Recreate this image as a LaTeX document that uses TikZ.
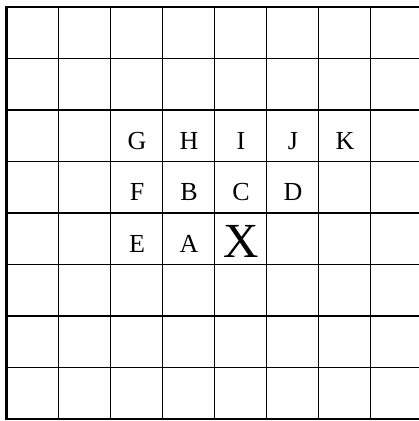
\documentclass[tikz,border=0pt]{standalone}
\usepackage{fontspec}
\setmainfont{Liberation Serif}
\usetikzlibrary{positioning}

\begin{document}
\begin{tikzpicture}[x=1pt,y=-1pt,
  letter/.style={anchor=base,inner sep=0pt,font=\fontsize{26}{26}\selectfont},
  bigletter/.style={anchor=base,inner sep=0pt,font=\fontsize{49}{49}\selectfont}]
\useasboundingbox (0,0) rectangle (419,421);
\clip (0,0) rectangle (419,421);
% grid: 8 columns of 52, 8 rows of 51.5
\foreach \i in {1,...,7} \draw[line width=1pt] ({6.5+52*\i},7)--({6.5+52*\i},419);
\foreach \j in {1,...,7} \draw[line width=1.3pt] (6.5,{7+51.5*\j})--(422.5,{7+51.5*\j});
\draw[line width=2.8pt] (6.5,7) rectangle (422.5,419);
% letters
\node[letter] (G) at (137,149) {G};\node[letter] (H) at (189,149) {H};\node[letter] (I) at (241,149) {I};
\node[letter] (J) at (293,149) {J};\node[letter] (K) at (345,149) {K};
\node[letter] (F) at (137,200.5) {F};\node[letter] (B) at (189,200.5) {B};\node[letter] (C) at (241,200.5) {C};
\node[letter] (D) at (293,200.5) {D};
\node[letter] (E) at (137,252) {E};\node[letter] (A) at (189,252) {A};
\node[bigletter] (X) at (241,257) {X};
\end{tikzpicture}
\end{document}
